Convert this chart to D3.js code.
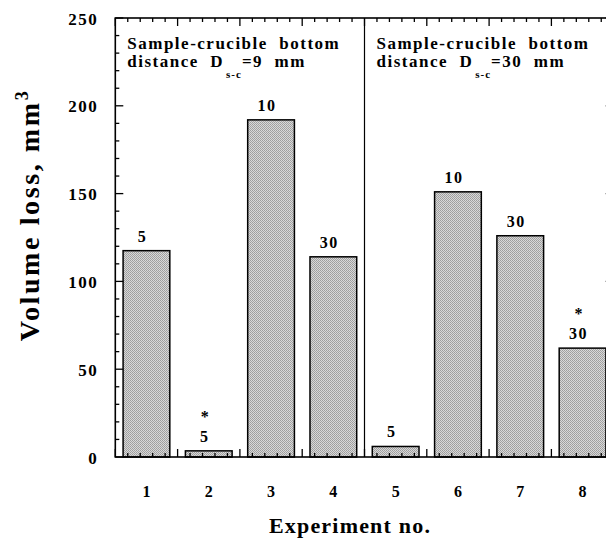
<!DOCTYPE html>
<html>
<head>
<meta charset="utf-8">
<script src="https://cdn.jsdelivr.net/npm/d3@7"></script>
<style>
  body { margin: 0; background: #fff; }
  svg text { font-family: "Liberation Serif", "Times New Roman", serif; font-weight: bold; fill: #000; }
</style>
</head>
<body>
<div id="chart"></div>
<script>
// experiment numbers and measured volume loss (mm3)
var experiments = ["1", "2", "3", "4", "5", "6", "7", "8"];
var volumeLoss = [117.5, 3.5, 192, 114, 6, 151, 126, 62];
// numbers written above each bar, and which bars carry an asterisk
var barLabels = ["5", "5", "10", "30", "5", "10", "30", "30"];
var starred = [false, true, false, false, false, false, false, true];
var yTicks = [0, 50, 100, 150, 200, 250];
var panelDistance = ["9", "30"];

var width = 606, height = 538;
var plotL = 115.3, plotR = 613.7, plotT = 18, plotB = 457;

var svg = d3.select("#chart").append("svg")
    .attr("width", width)
    .attr("height", height);

// checkerboard halftone like the scanned bars
var cell = ["#9c9c9c", "#dadada", "#d6d6d6", "#a4a4a4"];
var pat = svg.append("defs").append("pattern")
    .attr("id", "dots")
    .attr("width", 2).attr("height", 2)
    .attr("patternUnits", "userSpaceOnUse");
pat.selectAll("rect")
    .data(cell)
  .enter().append("rect")
    .attr("x", function(d, i) { return i % 2; })
    .attr("y", function(d, i) { return Math.floor(i / 2); })
    .attr("width", 1).attr("height", 1)
    .attr("fill", function(d) { return d; });

var x = d3.scaleBand()
    .domain(experiments)
    .range([plotL, plotR])
    .paddingInner(0.25)
    .paddingOuter(0.125);

// continuous copy of the x axis, for the minor ticks on top/bottom
var xl = d3.scaleLinear().domain([0, experiments.length]).range([plotL, plotR]);

var y = d3.scaleLinear().domain([0, 250]).range([plotB, plotT]);

var data = experiments.map(function(d, i) {
  return { exp: d, v: volumeLoss[i], label: barLabels[i], star: starred[i] };
});

// bars
svg.selectAll(".bar")
    .data(data)
  .enter().append("rect")
    .attr("class", "bar")
    .attr("x", function(d) { return x(d.exp); })
    .attr("y", function(d) { return y(d.v); })
    .attr("width", x.bandwidth())
    .attr("height", function(d) { return y(0) - y(d.v); })
    .attr("fill", "url(#dots)")
    .attr("stroke", "#000")
    .attr("stroke-width", 1.5);

// labels above bars
svg.selectAll(".barLabel")
    .data(data)
  .enter().append("text")
    .attr("x", function(d) { return x(d.exp) + x.bandwidth() / 2 - 4; })
    .attr("y", function(d) { return y(d.v) - 9; })
    .attr("text-anchor", "middle")
    .style("font-size", "16px")
    .style("letter-spacing", "1.5px")
    .text(function(d) { return d.label; });

svg.selectAll(".star")
    .data(data.filter(function(d) { return d.star; }))
  .enter().append("text")
    .attr("x", function(d) { return x(d.exp) + x.bandwidth() / 2 - 4; })
    .attr("y", function(d) { return y(d.v) - 29; })
    .attr("text-anchor", "middle")
    .style("font-size", "16px")
    .text("*");

// divider between the two groups
svg.append("line")
    .attr("x1", xl(4)).attr("x2", xl(4))
    .attr("y1", plotT).attr("y2", plotB)
    .attr("stroke", "#000")
    .attr("stroke-width", 1.2);

// frame
svg.append("rect")
    .attr("x", plotL).attr("y", plotT)
    .attr("width", plotR - plotL).attr("height", plotB - plotT)
    .attr("fill", "none")
    .attr("stroke", "#000")
    .attr("stroke-width", 1.6);

var minorX = d3.range(0, experiments.length * 5 + 1).map(function(i) { return i / 5; });
function isMajorX(d) { return Math.abs(d - Math.round(d)) < 1e-6; }
var minorY = d3.range(0, 251, 10);

var ticks = svg.append("g").attr("stroke", "#000").attr("stroke-width", 1.3);

// top ticks pointing down, bottom ticks pointing up
ticks.selectAll(".tTop")
    .data(minorX)
  .enter().append("line")
    .attr("x1", function(d) { return xl(d); }).attr("x2", function(d) { return xl(d); })
    .attr("y1", y(250))
    .attr("y2", function(d) { return y(250) + (isMajorX(d) ? 8 : 4); });
ticks.selectAll(".tBot")
    .data(minorX)
  .enter().append("line")
    .attr("x1", function(d) { return xl(d); }).attr("x2", function(d) { return xl(d); })
    .attr("y1", y(0))
    .attr("y2", function(d) { return y(0) - (isMajorX(d) ? 8 : 4); });

// left and right ticks pointing inward
ticks.selectAll(".tLeft")
    .data(minorY)
  .enter().append("line")
    .attr("x1", xl(0))
    .attr("x2", function(d) { return xl(0) + (d % 50 === 0 ? 8 : 4); })
    .attr("y1", function(d) { return y(d); }).attr("y2", function(d) { return y(d); });
ticks.selectAll(".tRight")
    .data(minorY)
  .enter().append("line")
    .attr("x1", xl(8))
    .attr("x2", function(d) { return xl(8) - (d % 50 === 0 ? 8 : 4); })
    .attr("y1", function(d) { return y(d); }).attr("y2", function(d) { return y(d); });

// category labels
var xAxis = svg.append("g")
    .attr("transform", "translate(0," + plotB + ")")
    .call(d3.axisBottom(x).tickSize(0).tickPadding(29));
xAxis.select(".domain").remove();
xAxis.selectAll("text")
    .attr("font-family", null).attr("font-size", null)
    .style("font-size", "16px");

// value labels on the left
var yAxis = svg.append("g")
    .attr("transform", "translate(" + plotL + ",0)")
    .call(d3.axisLeft(y).tickValues(yTicks).tickSize(0).tickPadding(17));
yAxis.select(".domain").remove();
yAxis.selectAll("text")
    .attr("font-family", null).attr("font-size", null)
    .attr("dy", "0.36em")
    .style("font-size", "17px")
    .style("letter-spacing", "1.5px");

// panel notes
panelDistance.forEach(function(dist, i) {
  var tx = xl(i * 4) + 12;
  svg.append("text")
      .attr("x", tx).attr("y", 49)
      .style("font-size", "17px")
      .style("letter-spacing", "1.5px")
      .style("white-space", "pre")
      .text("Sample-crucible  bottom");
  var t2 = svg.append("text")
      .attr("x", tx).attr("y", 67)
      .style("font-size", "17px")
      .style("letter-spacing", "1.5px")
      .style("white-space", "pre");
  t2.append("tspan").text("distance  D");
  t2.append("tspan").attr("dx", 2).attr("dy", 11).style("font-size", "11px").style("letter-spacing", "1px").text("s-c");
  t2.append("tspan").attr("dy", -11).text("=" + dist + "  mm");
});

// axis titles
svg.append("text")
    .attr("x", 350).attr("y", 533)
    .attr("text-anchor", "middle")
    .style("font-size", "22px")
    .style("letter-spacing", "1.2px")
    .text("Experiment no.");

var yt = svg.append("text")
    .attr("transform", "translate(39,215) rotate(-90)")
    .attr("text-anchor", "middle")
    .style("font-size", "28px")
    .style("letter-spacing", "2.6px");
yt.append("tspan").text("Volume loss, mm");
yt.append("tspan").attr("dy", -11).style("font-size", "18px").text("3");
</script>
</body>
</html>
